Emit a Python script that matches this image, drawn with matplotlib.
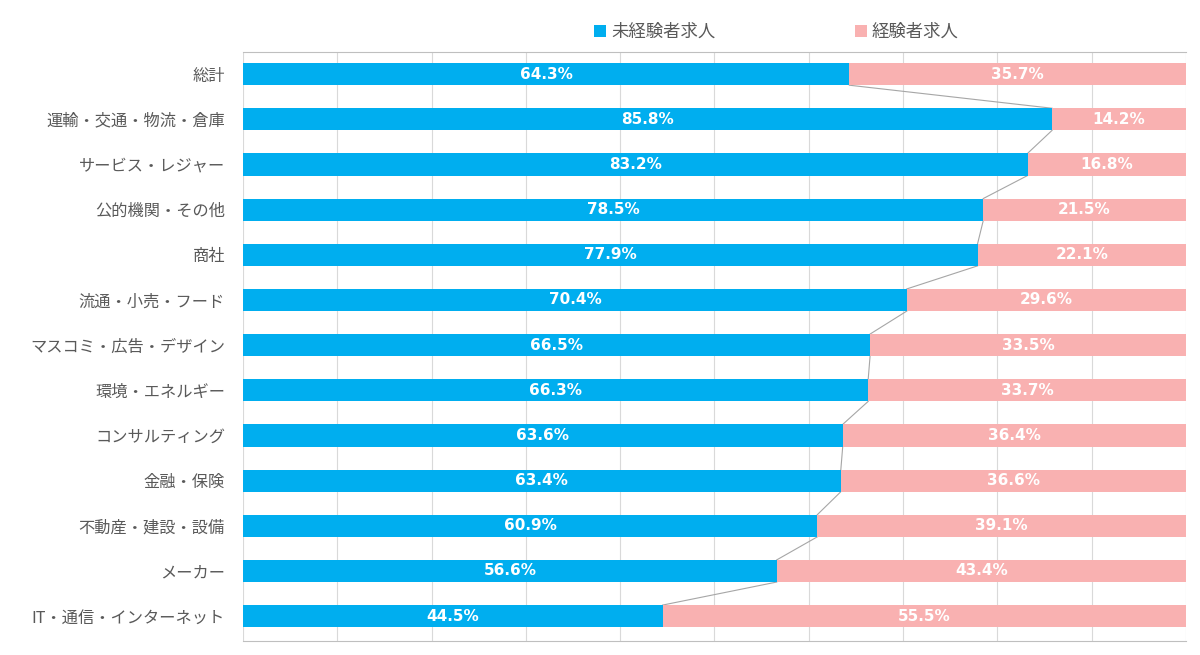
import numpy as np
import matplotlib.pyplot as plt

plt.rcParams['font.family'] = ['Noto Sans CJK JP', 'DejaVu Sans']

categories = ['総計', '運輸・交通・物流・倉庫', 'サービス・レジャー', '公的機関・その他', '商社',
              '流通・小売・フード', 'マスコミ・広告・デザイン', '環境・エネルギー', 'コンサルティング',
              '金融・保険', '不動産・建設・設備', 'メーカー', 'IT・通信・インターネット']
inexperienced = [64.3, 85.8, 83.2, 78.5, 77.9, 70.4, 66.5, 66.3, 63.6, 63.4, 60.9, 56.6, 44.5]
experienced = [35.7, 14.2, 16.8, 21.5, 22.1, 29.6, 33.5, 33.7, 36.4, 36.6, 39.1, 43.4, 55.5]

blue = '#00aeef'
pink = '#f9b1b1'
grey_text = '#595959'

fig = plt.figure(figsize=(12, 6.55), dpi=100)
ax = fig.add_axes([0.2025, 0.0214, 0.7858, 0.8992])

y = np.arange(len(categories))
h = 0.49
ax.barh(y, inexperienced, height=h, color=blue, label='未経験者求人', zorder=3)
ax.barh(y, experienced, left=inexperienced, height=h, color=pink, label='経験者求人', zorder=3)

# series lines between bars
for i in range(len(y) - 1):
    ax.plot([inexperienced[i], inexperienced[i + 1]], [y[i] + h / 2, y[i + 1] - h / 2],
            color='#a6a6a6', linewidth=0.8, zorder=2)

for i in range(len(y)):
    ax.text(inexperienced[i] / 2, y[i], f'{inexperienced[i]:.1f}%', ha='center', va='center',
            color='white', fontsize=11, fontweight='bold', family=['DejaVu Sans'], zorder=4)
    ax.text(inexperienced[i] + experienced[i] / 2, y[i], f'{experienced[i]:.1f}%', ha='center',
            va='center', color='white', fontsize=11, fontweight='bold', family=['DejaVu Sans'], zorder=4)

ax.set_xlim(0, 100)
ax.set_ylim(12.55, -0.49)
ax.set_xticks(np.arange(0, 101, 10))
ax.xaxis.grid(True, color='#d9d9d9', linewidth=0.8, zorder=0)
ax.tick_params(axis='x', length=0, labelbottom=False)
ax.set_yticks(y)
ax.set_yticklabels(categories, fontsize=11.7, color=grey_text)
ax.tick_params(axis='y', length=0, pad=13)
for s in ['left', 'right']:
    ax.spines[s].set_visible(False)
ax.spines['top'].set_color('#bfbfbf')
ax.spines['bottom'].set_color('#bfbfbf')

leg = fig.legend(loc='center', bbox_to_anchor=(0.647, 0.951), ncol=2, frameon=False,
                 fontsize=12.5, handlelength=0.7, handleheight=0.7, handletextpad=0.3,
                 columnspacing=8.0)
for t in leg.get_texts():
    t.set_color(grey_text)

fig.savefig('out.png', dpi=100)
